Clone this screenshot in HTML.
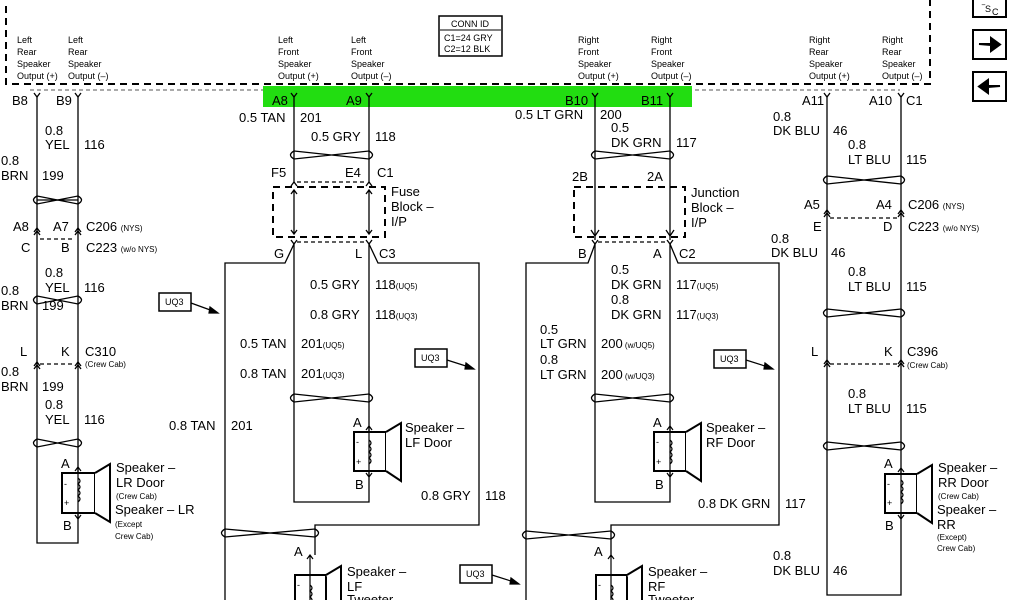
<!DOCTYPE html>
<html><head><meta charset="utf-8"><style>
html,body{margin:0;padding:0;background:#fff;}
svg{display:block;font-family:"Liberation Sans",sans-serif;}
.l{font-size:13px;}
.s{font-size:9px;}
.h{font-size:9px;}
</style></head><body>
<svg width="1024" height="600" viewBox="0 0 1024 600" xmlns="http://www.w3.org/2000/svg">
<g fill="none" stroke="#000">
<!-- top dashed box -->
<path d="M6,6 V84 H930 V0" stroke-width="2" stroke-dasharray="7,5"/>
<path d="M30,90 H900" stroke-width="1" stroke-dasharray="4,3" stroke="#555"/>
</g>
<rect x="263" y="86" width="429" height="21" fill="#22dd11"/>
<!-- conn id -->
<rect x="439" y="16" width="63" height="40" fill="#fff" stroke="#000" stroke-width="1.5"/>
<line x1="440" y1="30" x2="501" y2="30" stroke="#000"/>
<text x="470" y="27" class="h" text-anchor="middle">CONN ID</text>
<text x="444" y="41" class="h">C1=24 GRY</text>
<text x="444" y="52" class="h">C2=12 BLK</text>
<!-- icons -->
<g fill="#fff" stroke="#000" stroke-width="2">
<rect x="973" y="-2" width="33" height="19"/><rect x="973" y="30" width="33" height="29"/><rect x="973" y="72" width="33" height="29"/>
</g>
<text x="982" y="12" font-size="9">‾S</text><text x="992" y="15" font-size="9">C</text>
<path d="M979,44 H991 V38 L1000,44.5 L991,51 V45 Z" fill="#000" stroke="#000" stroke-width="2"/>
<path d="M1000,86 H988 V80 L979,86.5 L988,93 V87 Z" fill="#000" stroke="#000" stroke-width="2"/>
<!-- header labels -->
<g class="h">
<text x="17" y="43">Left</text><text x="17" y="55">Rear</text><text x="17" y="67">Speaker</text><text x="17" y="79">Output (+)</text>
<text x="68" y="43">Left</text><text x="68" y="55">Rear</text><text x="68" y="67">Speaker</text><text x="68" y="79">Output (–)</text>
<text x="278" y="43">Left</text><text x="278" y="55">Front</text><text x="278" y="67">Speaker</text><text x="278" y="79">Output (+)</text>
<text x="351" y="43">Left</text><text x="351" y="55">Front</text><text x="351" y="67">Speaker</text><text x="351" y="79">Output (–)</text>
<text x="578" y="43">Right</text><text x="578" y="55">Front</text><text x="578" y="67">Speaker</text><text x="578" y="79">Output (+)</text>
<text x="651" y="43">Right</text><text x="651" y="55">Front</text><text x="651" y="67">Speaker</text><text x="651" y="79">Output (–)</text>
<text x="809" y="43">Right</text><text x="809" y="55">Rear</text><text x="809" y="67">Speaker</text><text x="809" y="79">Output (+)</text>
<text x="882" y="43">Right</text><text x="882" y="55">Rear</text><text x="882" y="67">Speaker</text><text x="882" y="79">Output (–)</text>
</g>
<g fill="none" stroke="#000" stroke-width="1.3">
<!-- forks at top -->
<path d="M34,93 L37,97 L40,93 M75,93 L78,97 L81,93 M291,93 L294,97 L297,93 M366,93 L369,97 L372,93 M592,93 L595,97 L598,93 M667,93 L670,97 L673,93 M824,93 L827,97 L830,93 M898,93 L901,97 L904,93"/>
<!-- left rear -->
<path d="M37,97 V543 H78 V97"/>
<path d="M37,200 L78,200"/>
<path d="M37,196 Q30,200 37,204 L78,196 Q85,200 78,204 L37,196" />
<path d="M37,296 Q30,300 37,304 L78,296 Q85,300 78,304 L37,296"/>
<path d="M37,439 Q30,443 37,447 L78,439 Q85,443 78,447 L37,439"/>
<path d="M34,232 L37,228 L40,232 M34,235 L37,231 L40,235 M75,232 L78,228 L81,232 M75,235 L78,231 L81,235"/>
<path d="M34,366 L37,362 L40,366 M34,369 L37,365 L40,369 M75,366 L78,362 L81,366 M75,369 L78,365 L81,369"/>
<path d="M40,239 H75 M40,364 H75" stroke-dasharray="4,3"/>
<!-- LF -->
<path d="M294,97 V182 M369,97 V182"/>
<path d="M294,151 Q287,155 294,159 L369,151 Q376,155 369,159 L294,151"/>
<path d="M291,186 L294,182 L297,186 M366,186 L369,182 L372,186"/>
<path d="M297,182 H366 M297,242 H366" stroke-dasharray="4,3"/>
<path d="M273,187 H385 V237 H273 Z" stroke-width="2" stroke-dasharray="7,5"/>
<path d="M294,190 V234 M291,194 L294,190 L297,194 M291,230 L294,234 L297,230 M369,190 V234 M366,194 L369,190 L372,194 M366,230 L369,234 L372,230"/>
<path d="M291,240 L294,244 L297,240 M366,240 L369,244 L372,240"/>
<path d="M294,244 L285,263 H225 V600"/>
<path d="M369,244 L378,263 H479 V525 H315 V555"/>
<path d="M294,244 V502 H369 V244"/>
<path d="M294,394 Q287,398 294,402 L369,394 Q376,398 369,402 L294,394"/>
<path d="M225,529 Q218,533 225,537 L315,529 Q322,533 315,537 L225,529"/>
<!-- RF -->
<path d="M595,97 V240 M670,97 V240"/>
<path d="M595,151 Q588,155 595,159 L670,151 Q677,155 670,159 L595,151"/>
<path d="M574,187 H685 V237 H574 Z" stroke-width="2" stroke-dasharray="7,5"/>
<path d="M591,230 L595,236 L599,230 M666,230 L670,236 L674,230"/>
<path d="M598,242 H667" stroke-dasharray="4,3"/>
<path d="M592,240 L595,244 L598,240 M667,240 L670,244 L673,240"/>
<path d="M595,244 L588,263 H526 V600"/>
<path d="M670,244 L678,263 H779 V525 H611 V555"/>
<path d="M595,244 V502 H670 V244"/>
<path d="M595,394 Q588,398 595,402 L670,394 Q677,398 670,402 L595,394"/>
<path d="M526,531 Q519,535 526,539 L611,531 Q618,535 611,539 L526,531"/>
<!-- RR -->
<path d="M827,97 V595 H901 V97"/>
<path d="M827,176 Q820,180 827,184 L901,176 Q908,180 901,184 L827,176"/>
<path d="M827,309 Q820,313 827,317 L901,309 Q908,313 901,317 L827,309"/>
<path d="M827,442 Q820,446 827,450 L901,442 Q908,446 901,450 L827,442"/>
<path d="M824,214 L827,210 L830,214 M824,217 L827,213 L830,217 M898,214 L901,210 L904,214 M898,217 L901,213 L904,217"/>
<path d="M824,364 L827,360 L830,364 M824,367 L827,363 L830,367 M898,364 L901,360 L904,364 M898,367 L901,363 L904,367"/>
<path d="M830,218 H898 M830,364 H898" stroke-dasharray="4,3"/>
</g>
<!-- speakers -->
<g fill="#fff" stroke="#000" stroke-width="2">
<rect x="62" y="473" width="33" height="40"/><path d="M95,473 L110,464 V522 L95,513"/>
<rect x="354" y="432" width="32" height="39"/><path d="M386,432 L401,423 V481 L386,471"/>
<rect x="654" y="432" width="32" height="39"/><path d="M686,432 L701,423 V481 L686,471"/>
<rect x="885" y="474" width="32" height="39"/><path d="M917,474 L932,465 V523 L917,513"/>
<rect x="295" y="575" width="31" height="30"/><path d="M326,575 L341,566 V605"/>
<rect x="596" y="575" width="31" height="30"/><path d="M627,575 L642,566 V605"/>
</g>
<g fill="none" stroke="#000" stroke-width="1.2">
<path d="M78,467 V519 M75,471 L78,467 L81,471 M75,515 L78,519 L81,515 M78,478 q4,3 0,6 q4,3 0,6 q4,3 0,6 q4,3 0,6"/>
<path d="M369,426 V477 M366,430 L369,426 L372,430 M366,473 L369,477 L372,473 M369,440 q4,3 0,6 q4,3 0,6 q4,3 0,6 q4,3 0,6"/>
<path d="M670,426 V477 M667,430 L670,426 L673,430 M667,473 L670,477 L673,473 M670,440 q4,3 0,6 q4,3 0,6 q4,3 0,6 q4,3 0,6"/>
<path d="M901,468 V519 M898,472 L901,468 L904,472 M898,515 L901,519 L904,515 M901,480 q4,3 0,6 q4,3 0,6 q4,3 0,6 q4,3 0,6"/>
<path d="M310,555 V600 M307,559 L310,555 L313,559 M310,585 q4,3 0,6 q4,3 0,6 q4,3 0,6"/>
<path d="M611,555 V600 M608,559 L611,555 L614,559 M611,585 q4,3 0,6 q4,3 0,6 q4,3 0,6"/>
</g>
<!-- UQ3 boxes -->
<g fill="#fff" stroke="#000" stroke-width="1.5">
<rect x="159" y="293" width="32" height="18"/><rect x="415" y="349" width="32" height="18"/>
<rect x="714" y="350" width="32" height="18"/><rect x="460" y="565" width="32" height="18"/>
</g>
<g stroke="#000" stroke-width="1.2" fill="#000">
<path d="M191,303 L213,311"/><path d="M218,313 L210,307 L209,313 Z"/>
<path d="M447,360 L469,367"/><path d="M474,369 L466,363 L465,369 Z"/>
<path d="M746,360 L768,367"/><path d="M773,369 L765,363 L764,369 Z"/>
<path d="M492,575 L514,582"/><path d="M519,584 L511,578 L510,584 Z"/>
</g>
<g class="s" font-size="8"><text x="165" y="305">UQ3</text><text x="421" y="361">UQ3</text><text x="720" y="362">UQ3</text><text x="466" y="577">UQ3</text></g>
<g class="l">
<text x="12" y="105">B8</text><text x="56" y="105">B9</text>
<text x="272" y="105">A8</text><text x="346" y="105">A9</text>
<text x="565" y="105">B10</text><text x="641" y="105">B11</text>
<text x="802" y="105">A11</text><text x="869" y="105">A10</text><text x="906" y="105">C1</text>
<text x="45" y="135">0.8</text><text x="45" y="149">YEL</text><text x="84" y="149">116</text>
<text x="1" y="165">0.8</text><text x="1" y="180">BRN</text><text x="42" y="180">199</text>
<text x="13" y="231">A8</text><text x="53" y="231">A7</text><text x="86" y="231">C206 <tspan font-size="8">(NYS)</tspan></text>
<text x="21" y="252">C</text><text x="61" y="252">B</text><text x="86" y="252">C223 <tspan font-size="8">(w/o NYS)</tspan></text>
<text x="45" y="277">0.8</text><text x="45" y="292">YEL</text><text x="84" y="292">116</text>
<text x="1" y="295">0.8</text><text x="1" y="310">BRN</text><text x="42" y="310">199</text>
<text x="20" y="356">L</text><text x="61" y="356">K</text><text x="85" y="356">C310</text>
<text x="85" y="367" font-size="8">(Crew Cab)</text>
<text x="1" y="376">0.8</text><text x="1" y="391">BRN</text><text x="42" y="391">199</text>
<text x="45" y="409">0.8</text><text x="45" y="424">YEL</text><text x="84" y="424">116</text>
<text x="61" y="468">A</text><text x="63" y="530">B</text>
<text x="116" y="472">Speaker –</text><text x="116" y="487">LR Door</text>
<text x="116" y="499" font-size="8">(Crew Cab)</text>
<text x="115" y="514">Speaker – LR</text>
<text x="115" y="527" font-size="8">(Except</text><text x="115" y="539" font-size="8">Crew Cab)</text>

<text x="239" y="122">0.5 TAN</text><text x="300" y="122">201</text>
<text x="311" y="141">0.5 GRY</text><text x="375" y="141">118</text>
<text x="271" y="177">F5</text><text x="345" y="177">E4</text><text x="377" y="177">C1</text>
<text x="391" y="196">Fuse</text><text x="391" y="211">Block –</text><text x="391" y="226">I/P</text>
<text x="274" y="258">G</text><text x="355" y="258">L</text><text x="379" y="258">C3</text>
<text x="310" y="289">0.5 GRY</text><text x="375" y="289">118<tspan font-size="8">(UQ5)</tspan></text>
<text x="310" y="319">0.8 GRY</text><text x="375" y="319">118<tspan font-size="8">(UQ3)</tspan></text>
<text x="240" y="348">0.5 TAN</text><text x="301" y="348">201<tspan font-size="8">(UQ5)</tspan></text>
<text x="240" y="378">0.8 TAN</text><text x="301" y="378">201<tspan font-size="8">(UQ3)</tspan></text>
<text x="169" y="430">0.8 TAN</text><text x="231" y="430">201</text>
<text x="353" y="427">A</text><text x="355" y="489">B</text>
<text x="405" y="432">Speaker –</text><text x="405" y="447">LF Door</text>
<text x="421" y="500">0.8 GRY</text><text x="485" y="500">118</text>
<text x="294" y="556">A</text>
<text x="347" y="576">Speaker –</text><text x="347" y="591">LF</text><text x="347" y="604">Tweeter</text>

<text x="515" y="119">0.5 LT GRN</text><text x="600" y="119">200</text>
<text x="611" y="132">0.5</text><text x="611" y="147">DK GRN</text><text x="676" y="147">117</text>
<text x="572" y="181">2B</text><text x="647" y="181">2A</text>
<text x="691" y="197">Junction</text><text x="691" y="212">Block –</text><text x="691" y="227">I/P</text>
<text x="578" y="258">B</text><text x="653" y="258">A</text><text x="679" y="258">C2</text>
<text x="611" y="274">0.5</text><text x="611" y="289">DK GRN</text><text x="676" y="289">117<tspan font-size="8">(UQ5)</tspan></text>
<text x="611" y="304">0.8</text><text x="611" y="319">DK GRN</text><text x="676" y="319">117<tspan font-size="8">(UQ3)</tspan></text>
<text x="540" y="334">0.5</text><text x="540" y="348">LT GRN</text><text x="601" y="348">200<tspan font-size="8"> (w/UQ5)</tspan></text>
<text x="540" y="364">0.8</text><text x="540" y="379">LT GRN</text><text x="601" y="379">200<tspan font-size="8"> (w/UQ3)</tspan></text>
<text x="653" y="427">A</text><text x="655" y="489">B</text>
<text x="706" y="432">Speaker –</text><text x="706" y="447">RF Door</text>
<text x="698" y="508">0.8 DK GRN</text><text x="785" y="508">117</text>
<text x="594" y="556">A</text>
<text x="648" y="576">Speaker –</text><text x="648" y="591">RF</text><text x="648" y="604">Tweeter</text>

<text x="773" y="121">0.8</text><text x="773" y="135">DK BLU</text><text x="833" y="135">46</text>
<text x="848" y="149">0.8</text><text x="848" y="164">LT BLU</text><text x="906" y="164">115</text>
<text x="804" y="209">A5</text><text x="876" y="209">A4</text><text x="908" y="209">C206 <tspan font-size="8">(NYS)</tspan></text>
<text x="813" y="231">E</text><text x="883" y="231">D</text><text x="908" y="231">C223 <tspan font-size="8">(w/o NYS)</tspan></text>
<text x="771" y="243">0.8</text><text x="771" y="257">DK BLU</text><text x="831" y="257">46</text>
<text x="848" y="276">0.8</text><text x="848" y="291">LT BLU</text><text x="906" y="291">115</text>
<text x="811" y="356">L</text><text x="884" y="356">K</text><text x="907" y="356">C396</text>
<text x="907" y="368" font-size="8">(Crew Cab)</text>
<text x="848" y="398">0.8</text><text x="848" y="413">LT BLU</text><text x="906" y="413">115</text>
<text x="884" y="468">A</text><text x="885" y="530">B</text>
<text x="938" y="472">Speaker –</text><text x="938" y="487">RR Door</text>
<text x="938" y="499" font-size="8">(Crew Cab)</text>
<text x="937" y="514">Speaker –</text><text x="937" y="529">RR</text>
<text x="937" y="540" font-size="8">(Except)</text><text x="937" y="551" font-size="8">Crew Cab)</text>
<text x="773" y="560">0.8</text><text x="773" y="575">DK BLU</text><text x="833" y="575">46</text>
</g>
<g font-size="9"><text x="64" y="487">-</text><text x="64" y="506">+</text><text x="356" y="445">-</text><text x="356" y="465">+</text><text x="656" y="445">-</text><text x="656" y="465">+</text><text x="887" y="487">-</text><text x="887" y="506">+</text><text x="297" y="588">-</text><text x="598" y="588">-</text></g>
</svg>
</body></html>
